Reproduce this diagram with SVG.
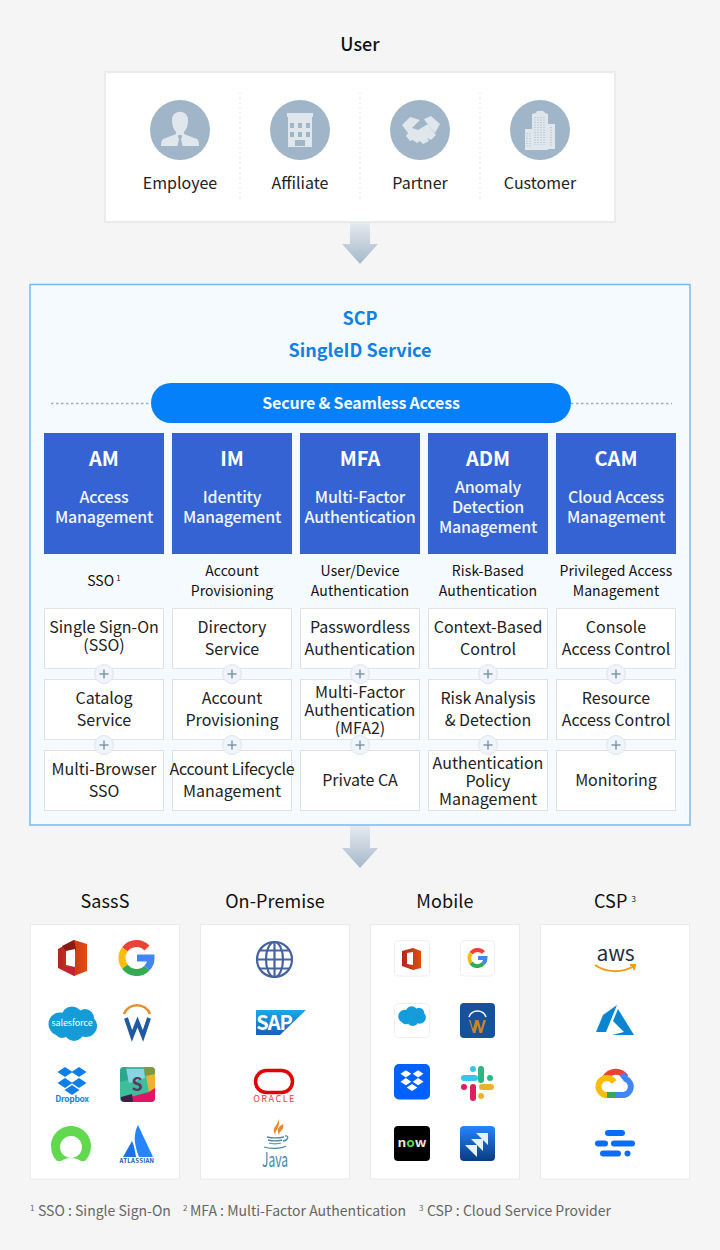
<svg xmlns="http://www.w3.org/2000/svg" width="720" height="1250" viewBox="0 0 720 1250">
<style>
text{font-family:"Noto Sans CJK KR","Noto Sans",sans-serif;text-anchor:middle}
.title{font-size:18px;font-weight:500;fill:#111}
.t2{font-size:18px;font-weight:400;fill:#111;letter-spacing:.1px}
.user{font-size:16px;fill:#222}
.ic{fill:#a0b5c8}.gl{fill:#dfe6ec}
.dv{stroke:#e6e6e6;stroke-width:1.2;stroke-dasharray:2 3}
.hd{fill:#3563d3}
.ht{font-size:20px;font-weight:700;fill:#fff}
.hs{font-size:16px;font-weight:500;fill:#f2f6ff;letter-spacing:-.2px}
.sub{font-size:14px;font-weight:400;fill:#111;letter-spacing:.1px}
.bx{fill:#fff;stroke:#dfe3e7;stroke-width:1}
.bt{font-size:16px;fill:#222}
.pc{fill:#eef4f9;stroke:#dfe6ec}
.pl{stroke:#7f96ad;stroke-width:1.5}
.pn{fill:#fff;stroke:#ebebeb}
.tile{fill:#fff;stroke:#eeeeee}
.fn{font-size:14px;fill:#666;text-anchor:start}
.sp{font-size:8px}
</style>
<defs>
<linearGradient id="ag" x1="0" y1="0" x2="0" y2="1"><stop offset="0" stop-color="#e6ebf0"/><stop offset="1" stop-color="#a5b8ca"/></linearGradient>
<linearGradient id="off" x1="0" y1="0" x2="1" y2="0"><stop offset="0" stop-color="#b3261e"/><stop offset="1" stop-color="#e04e0c"/></linearGradient>
<linearGradient id="jira" x1="0" y1="0" x2="0" y2="1"><stop offset="0" stop-color="#2684ff"/><stop offset="1" stop-color="#0a3a80"/></linearGradient>
<linearGradient id="sap" x1="0" y1="0" x2="0" y2="1"><stop offset="0" stop-color="#19a9e8"/><stop offset="1" stop-color="#1f5cb8"/></linearGradient>
<g id="plus"><circle r="9.5" class="pc"/><path d="M-4.5 0H4.5M0-4.5V4.5" class="pl"/></g>
<path id="arrow" d="M-10 0H10V22H18L0 42L-18 22H-10Z" fill="url(#ag)"/>
<g id="sf"><circle cx="60" cy="1024" r="11.500"/><circle cx="72" cy="1017" r="10.500"/><circle cx="85" cy="1018" r="9"/><circle cx="86" cy="1026" r="11"/><circle cx="74" cy="1031" r="10"/><circle cx="62" cy="1031" r="7"/></g>
<path id="dia" d="M-7.500 0L0-5L7.500 0L0 5Z"/>
</defs>
<rect width="720" height="1250" fill="#f5f5f5"/>

<text class="title" x="360" y="51">User</text>
<g id="user-panel">
<rect x="105" y="72" width="510" height="150" fill="#fff" stroke="#ebebeb" stroke-width="2"/>
<path class="dv" d="M240 92V202M360 92V202M480 92V202"/>
</g>
<g id="employee">
<circle class="ic" cx="180" cy="130" r="30"/>
<path class="gl" d="M172 120c0-11 16-11 16 0c0 5-1 9-4 12v2l13 5c1.500 1 2 4 2 7h-38c0-3 .5-5.500 2-7l13-5v-2c-3-3-4-7-4-12z"/>
<path d="M178.500 135h3l.5 2-1 2 1.500 7h-5l1.500-7-1-2z" fill="#a0b5c8"/>
<text class="user" x="180" y="189">Employee</text>
</g>
<g id="affiliate">
<circle class="ic" cx="300" cy="130" r="30"/>
<path class="gl" d="M287 113h26v4h-1v30h-24v-30h-1z"/>
<path d="M290 123h4v5h-4zM298 123h4v5h-4zM306 123h4v5h-4zM290 132h4v5h-4zM298 132h4v5h-4zM306 132h4v5h-4zM295 140h10v6h-10z" fill="#a0b5c8"/>
<text class="user" x="300" y="189">Affiliate</text>
</g>
<g id="partner">
<circle class="ic" cx="420" cy="130" r="30"/>
<path class="gl" d="M402 125L410 117L420 120L412 128L418 130L428 124L436 135L431 140L427 138L429 141L423 144L420 141L417 143L413 140L410 141L406 136L408 133Z"/>
<path class="gl" d="M424 119L431 116L440 124L435 133L426 122Z"/>
<text class="user" x="420" y="189">Partner</text>
</g>
<g id="customer">
<circle class="ic" cx="540" cy="130" r="30"/>
<path class="gl" d="M525 129h7v-15l4-1 1-2h6l2 2 3 1v36h-23zM548 124h7v25h-7z"/>
<path d="M535 117v28M538 117v28M541 117v28M544 117v28M527 133v14M530 133v14M551 127v20" stroke="#a0b5c8" stroke-width="1" stroke-dasharray="1 1.500"/>
<text class="user" x="540" y="189">Customer</text>
</g>

<g id="scp">
<rect x="30" y="284.500" width="660" height="540.500" fill="#f5faff" stroke="#7db8ec" stroke-width="1.500"/>
<text x="360" y="324.500" font-size="18" font-weight="700" fill="#1180e4">SCP</text>
<text x="360" y="356.500" font-size="18" font-weight="700" fill="#1180e4">SingleID Service</text>
</g>
<g id="connectors">
<use href="#arrow" x="360" y="222"/>
<use href="#arrow" x="360" y="826"/>
<path d="M51 403.500H151M571 403.500H672" stroke="#9fb0ba" stroke-width="1.500" stroke-dasharray="2.500 2.500"/>
</g>
<g id="secure-access">
<rect x="151" y="383" width="420" height="40" rx="20" fill="#0580fb"/>
<text x="361" y="408.500" font-size="16" font-weight="700" fill="#f4f9ff" letter-spacing="-.2">Secure &amp; Seamless Access</text>
</g>

<g id="col-am">
<rect class="hd" x="44" y="433" width="120" height="121"/>
<text class="ht" x="104" y="465.500">AM</text>
<text class="hs" x="104" y="503">Access</text><text class="hs" x="104" y="523">Management</text>
<text class="sub" x="104" y="586">SSO<tspan class="sp" dx="2" dy="-5">1</tspan></text>
<rect class="bx" x="44.500" y="608.500" width="119" height="60"/><text class="bt" x="104" y="633">Single Sign-On</text><text class="bt" x="104" y="651">(SSO)</text>
<rect class="bx" x="44.500" y="679.500" width="119" height="60"/><text class="bt" x="104" y="704">Catalog</text><text class="bt" x="104" y="726">Service</text>
<rect class="bx" x="44.500" y="750.500" width="119" height="60"/><text class="bt" x="104" y="775">Multi-Browser</text><text class="bt" x="104" y="797">SSO</text>
<use href="#plus" x="104" y="674"/><use href="#plus" x="104" y="745"/>
</g>
<g id="col-im">
<rect class="hd" x="172" y="433" width="120" height="121"/>
<text class="ht" x="232" y="465.500">IM</text>
<text class="hs" x="232" y="503">Identity</text><text class="hs" x="232" y="523">Management</text>
<text class="sub" x="232" y="576">Account</text><text class="sub" x="232" y="596">Provisioning</text>
<rect class="bx" x="172.500" y="608.500" width="119" height="60"/><text class="bt" x="232" y="633">Directory</text><text class="bt" x="232" y="655">Service</text>
<rect class="bx" x="172.500" y="679.500" width="119" height="60"/><text class="bt" x="232" y="704">Account</text><text class="bt" x="232" y="726">Provisioning</text>
<rect class="bx" x="172.500" y="750.500" width="119" height="60"/><text class="bt" x="232" y="775" letter-spacing="-.25">Account Lifecycle</text><text class="bt" x="232" y="797">Management</text>
<use href="#plus" x="232" y="674"/><use href="#plus" x="232" y="745"/>
</g>
<g id="col-mfa">
<rect class="hd" x="300" y="433" width="120" height="121"/>
<text class="ht" x="360" y="465.500">MFA</text>
<text class="hs" x="360" y="503">Multi-Factor</text><text class="hs" x="360" y="523">Authentication</text>
<text class="sub" x="360" y="576">User/Device</text><text class="sub" x="360" y="596">Authentication</text>
<rect class="bx" x="300.500" y="608.500" width="119" height="60"/><text class="bt" x="360" y="633">Passwordless</text><text class="bt" x="360" y="655">Authentication</text>
<rect class="bx" x="300.500" y="679.500" width="119" height="60"/><text class="bt" x="360" y="698">Multi-Factor</text><text class="bt" x="360" y="716">Authentication</text><text class="bt" x="360" y="734">(MFA2)</text>
<rect class="bx" x="300.500" y="750.500" width="119" height="60"/><text class="bt" x="360" y="786">Private CA</text>
<use href="#plus" x="360" y="674"/><use href="#plus" x="360" y="745"/>
</g>
<g id="col-adm">
<rect class="hd" x="428" y="433" width="120" height="121"/>
<text class="ht" x="488" y="465.500">ADM</text>
<text class="hs" x="488" y="493">Anomaly</text><text class="hs" x="488" y="513">Detection</text><text class="hs" x="488" y="533">Management</text>
<text class="sub" x="488" y="576">Risk-Based</text><text class="sub" x="488" y="596">Authentication</text>
<rect class="bx" x="428.500" y="608.500" width="119" height="60"/><text class="bt" x="488" y="633">Context-Based</text><text class="bt" x="488" y="655">Control</text>
<rect class="bx" x="428.500" y="679.500" width="119" height="60"/><text class="bt" x="488" y="704">Risk Analysis</text><text class="bt" x="488" y="726">&amp; Detection</text>
<rect class="bx" x="428.500" y="750.500" width="119" height="60"/><text class="bt" x="488" y="769">Authentication</text><text class="bt" x="488" y="787">Policy</text><text class="bt" x="488" y="805">Management</text>
<use href="#plus" x="488" y="674"/><use href="#plus" x="488" y="745"/>
</g>
<g id="col-cam">
<rect class="hd" x="556" y="433" width="120" height="121"/>
<text class="ht" x="616" y="465.500">CAM</text>
<text class="hs" x="616" y="503">Cloud Access</text><text class="hs" x="616" y="523">Management</text>
<text class="sub" x="616" y="576">Privileged Access</text><text class="sub" x="616" y="596">Management</text>
<rect class="bx" x="556.500" y="608.500" width="119" height="60"/><text class="bt" x="616" y="633">Console</text><text class="bt" x="616" y="655">Access Control</text>
<rect class="bx" x="556.500" y="679.500" width="119" height="60"/><text class="bt" x="616" y="704">Resource</text><text class="bt" x="616" y="726">Access Control</text>
<rect class="bx" x="556.500" y="750.500" width="119" height="60"/><text class="bt" x="616" y="786">Monitoring</text>
<use href="#plus" x="616" y="674"/><use href="#plus" x="616" y="745"/>
</g>

<g id="saass">
<text class="t2" x="105" y="908">SassS</text>
<rect class="pn" x="30.500" y="924.500" width="149" height="254.500"/>
<path d="M58 949L74 940L87 944V971L74 976L58 968Z" fill="url(#off)"/>
<path d="M62 946L74 940L76 950L66 951Z" fill="#8a1a14"/>
<path d="M60 968L75 966L75 976Z" fill="#c4213a"/>
<path d="M66 951L75 949V967L66 965Z" fill="#fff"/>
<g fill="none" stroke-width="7">
<path d="M147 948A14.500 14.500 0 0 0 124.900 949.300" stroke="#ea4335"/><path d="M124.900 949.300A14.500 14.500 0 0 0 124.900 966.700" stroke="#fbbc05"/><path d="M124.900 966.700A14.500 14.500 0 0 0 146.800 968.300" stroke="#34a853"/><path d="M137 958H151A14.500 14.500 0 0 1 146.800 968.300" stroke="#4285f4"/>
</g>
<use href="#sf" fill="#159bd7"/>
<text x="72" y="1026" font-size="9" fill="#fff" letter-spacing="-.1">salesforce</text>
<path d="M124 1014a14 14 0 0 1 26 0" fill="none" stroke="#e88e2e" stroke-width="2.600"/>
<path d="M126 1018L132 1036L137.500 1022L143 1036L149 1018" fill="none" stroke="#1e5aa0" stroke-width="4"/>
<g fill="#0d7fe6"><use href="#dia" x="65" y="1072"/><use href="#dia" x="79" y="1072"/><use href="#dia" x="65" y="1083"/><use href="#dia" x="79" y="1083"/><use href="#dia" x="72" y="1090"/></g>
<text x="72" y="1102" font-size="8.500" font-weight="700" fill="#1a82d8" letter-spacing="-.3">Dropbox</text>
<g><rect x="120" y="1067" width="35" height="35" rx="4" fill="#3ebd9c"/><path d="M126 1069h18l1 9-16 5z" fill="#88d4e2"/><path d="M144 1067h7a4 4 0 0 1 4 4v3l-10 2z" fill="#7f9a3d"/><path d="M146 1076l9-2v15l-6 3z" fill="#ecb32e"/><path d="M130 1097l19-5 6-4v10a4 4 0 0 1-4 4h-19z" fill="#e01563"/><path d="M121 1097l11-3 1 8h-9a4 4 0 0 1-3-5z" fill="#3f1f46"/><path d="M120 1070a4 4 0 0 1 4-3h2l2 13-8 2z" fill="#2ba88c"/><text x="137" y="1091" font-size="18" font-weight="700" fill="#5a3a62">S</text></g>
<path d="M71 1126c11 0 20 9 20 20 0 6-2 11-6 15l-4 0c-3-2-6-3-10-3s-7 1-10 3l-4 0c-4-4-6-9-6-15 0-11 9-20 20-20zm0 10a11 11 0 1 0 .01 0z" fill="#62d84e" fill-rule="evenodd"/>
<path d="M138 1125C134 1133 133 1142 139 1157H153Z" fill="#2684ff"/>
<path d="M132 1141L123 1157H136C135 1151 134 1145 132 1141Z" fill="#1c72e8"/>
<text x="137" y="1163" font-size="6" font-weight="700" fill="#1458a8" letter-spacing=".3">ATLASSIAN</text>
</g>

<g id="on-premise">
<text class="t2" x="275" y="908">On-Premise</text>
<rect class="pn" x="200.500" y="924.500" width="149" height="254.500"/>
<g fill="none" stroke="#44639f" stroke-width="2.200"><circle cx="274.500" cy="959.500" r="17.500"/><ellipse cx="274.500" cy="959.500" rx="8.500" ry="17.500"/><path d="M274.500 942v35M257 959.500h35M259.500 950.500h30M259.500 968.500h30"/></g>
<path d="M256 1010h50l-26 25h-24z" fill="url(#sap)"/>
<text x="274" y="1030" font-size="20" font-weight="700" fill="#fff" letter-spacing="-1">SAP</text>
<rect x="255.500" y="1070.500" width="37" height="22" rx="11" fill="none" stroke="#e30000" stroke-width="3.500"/>
<text x="274.500" y="1102" font-size="9" fill="#e04040" letter-spacing="1.500">ORACLE</text>
<path d="M278 1118c2 6-6 9-4 14 .5 2 2 4 2 4-3-5 6-8 2-18zM283 1124c-3 2-6 4-5 7 0 2 1 4 1 4 0-4 6-5 4-11z" fill="#e58a2e"/>
<g fill="none" stroke="#4c87a6" stroke-width="1.300"><path d="M267 1137c4 1 12 1 17 0M268 1140c4 1 10 1 14 0M269 1143c3 1 9 1 12 0M264 1147c5 2 17 2 22-1M285 1136c4-1 4 4-2 5"/></g>
<text x="275" y="1167" font-size="20" fill="#3f86a8" textLength="26" lengthAdjust="spacingAndGlyphs">Java</text>
</g>

<g id="mobile">
<text class="t2" x="445" y="908">Mobile</text>
<rect class="pn" x="370.500" y="924.500" width="149" height="254.500"/>
<rect class="tile" x="394.500" y="940.500" width="35" height="35.500" rx="4"/>
<path d="M402 951L413 948L421 951V968L413 970L402 966Z" fill="url(#off)"/>
<path d="M407 953L413 952V965L407 964Z" fill="#fff"/>
<rect class="tile" x="460.500" y="940.500" width="34" height="35.500" rx="4"/>
<g fill="none" stroke-width="4"><path d="M483.500 952.500A8 8 0 0 0 471.100 953.200" stroke="#ea4335"/><path d="M471.100 953.200A8 8 0 0 0 471.100 963" stroke="#fbbc05"/><path d="M471.100 963A8 8 0 0 0 483.200 963.700" stroke="#34a853"/><path d="M478 958H485.500A8 8 0 0 1 483.200 963.700" stroke="#4285f4"/></g>
<rect class="tile" x="394.500" y="1003.500" width="35" height="34" rx="4"/>
<use href="#sf" fill="#149cdb" transform="translate(370.600 432.600) scale(.57)"/>
<rect x="460" y="1003" width="35" height="35" rx="4" fill="#15529b"/>
<path d="M469 1017a9 9 0 0 1 17 0" fill="none" stroke="#fff" stroke-width="1.500"/>
<path d="M469 1020l4 13h2.500l2-8 2 8h2.500l4-13h-2.500l-2.500 9-2.500-9h-3l-2.500 9-2.500-9z" fill="#c9852e"/>
<rect x="394" y="1064" width="36" height="35.500" rx="5" fill="#0061fe"/>
<g fill="#fff" transform="translate(412 1081) scale(.72)"><use href="#dia" x="-8.500" y="-10"/><use href="#dia" x="8.500" y="-10"/><use href="#dia" x="-8.500" y="1"/><use href="#dia" x="8.500" y="1"/><use href="#dia" x="0" y="9"/></g>
<g stroke-linecap="round" stroke-width="6" fill="none"><path d="M464 1078h11" stroke="#36c5f0"/><path d="M481 1069v11" stroke="#2eb67d"/><path d="M490 1078v.01" stroke="#2eb67d"/><path d="M473 1069v.01" stroke="#36c5f0"/><path d="M464 1087v.01" stroke="#e01e5a"/><path d="M473 1087v11" stroke="#e01e5a"/><path d="M482 1087h9" stroke="#ecb22e"/><path d="M481 1096v.01" stroke="#ecb22e"/></g>
<rect x="394" y="1126" width="36" height="35" rx="4" fill="#000"/>
<text x="412" y="1147" font-size="12" font-weight="700" fill="#e6e6e6" textLength="29" lengthAdjust="spacingAndGlyphs">n<tspan fill="#62d84e">o</tspan>w</text>
<rect x="460" y="1126" width="35" height="35" rx="4" fill="url(#jira)"/>
<path d="M476 1133H488V1145ZM471 1139H483V1151ZM465 1145H477V1157Z" fill="#e8f0fb"/>
</g>

<g id="csp">
<text x="615" y="908" class="t2">CSP<tspan class="sp" dx="4" dy="-6" font-size="9">3</tspan></text>
<rect class="pn" x="540.500" y="924.500" width="149" height="254.500"/>
<text x="615.500" y="961" font-size="21" fill="#232f3e" letter-spacing="-.2">aws</text>
<path d="M595 965c11 8 28 8 39 1M630 965l5 0-1 5" fill="none" stroke="#f29a1f" stroke-width="2"/>
<path d="M617 1005L603 1015L596 1032H606Z" fill="#0a85d1"/><path d="M618 1009L634 1035H612L624 1032L613 1021Z" fill="#0a85d1"/>
<g fill="none" stroke-width="6"><path d="M605 1078A12.500 12.500 0 0 1 626 1077" stroke="#ea4335"/><path d="M622 1074L626 1079A8.500 8.500 0 0 1 624 1095H615" stroke="#4285f4"/><path d="M615 1095H607" stroke="#34a853"/><path d="M607 1095A8.500 8.500 0 0 1 607 1078C610 1078 612 1079 614 1082" stroke="#fbbc05"/></g>
<g fill="#0b6cf9"><rect x="605" y="1130" width="20" height="6" rx="3"/><rect x="595" y="1140.500" width="13" height="6" rx="3"/><rect x="611" y="1140.500" width="24" height="6" rx="3"/><rect x="600" y="1150.500" width="21" height="6" rx="3"/><circle cx="627.500" cy="1153.500" r="3"/></g>
</g>

<g id="footnotes">
<text class="fn" x="30" y="1216"><tspan class="sp" dy="-5">1</tspan><tspan dx="3.500" dy="5">SSO : Single Sign-On</tspan></text>
<text class="fn" x="183" y="1216"><tspan class="sp" dy="-5">2</tspan><tspan dx="2.500" dy="5">MFA : Multi-Factor Authentication</tspan></text>
<text class="fn" x="419" y="1216"><tspan class="sp" dy="-5">3</tspan><tspan dx="3.500" dy="5">CSP : Cloud Service Provider</tspan></text>
</g>
</svg>
